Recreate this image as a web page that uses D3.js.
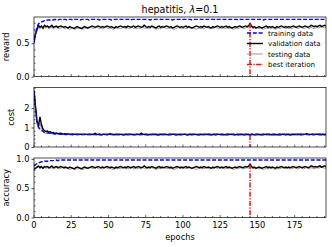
<!DOCTYPE html>
<html><head><meta charset="utf-8">
<script src="https://cdn.jsdelivr.net/npm/d3@7"></script>
<style>body{margin:0;background:#fff}svg{display:block;font-family:"DejaVu Sans",sans-serif}</style>
</head><body><svg id="c" width="332" height="247"></svg>
<script>
const title = "hepatitis, ";
const xTicks = [0,25,50,75,100,125,150,175];
const bestIter = 145;
const legendLabels = ["training data","validation data","testing data","best iteration"];
const panelLabels = ["reward","cost","accuracy"];
const yTicks = [[0.0,0.5],[0,1,2],[0.0,0.5,1.0]];
const yTickFmt = [".1f","d",".1f"];
const yDomains = [[0,0.895],[0,3.05],[0,1.015]];

const trainReward = [
0.50,0.65,0.74,0.79,0.81,0.82,0.83,0.84,0.84,0.85,
0.85,0.85,0.85,0.85,0.86,0.85,0.85,0.86,0.86,0.85,
0.86,0.86,0.85,0.86,0.86,0.86,0.85,0.86,0.86,0.86,
0.86,0.85,0.86,0.86,0.86,0.86,0.86,0.85,0.86,0.86,
0.86,0.86,0.86,0.86,0.85,0.86,0.86,0.86,0.86,0.86,
0.86,0.86,0.85,0.86,0.86,0.86,0.86,0.86,0.86,0.86,
0.86,0.86,0.86,0.86,0.86,0.85,0.86,0.86,0.86,0.86,
0.86,0.86,0.86,0.86,0.86,0.86,0.86,0.86,0.85,0.86,
0.86,0.86,0.86,0.86,0.86,0.86,0.86,0.86,0.86,0.86,
0.86,0.86,0.86,0.85,0.86,0.86,0.86,0.86,0.86,0.86,
0.86,0.86,0.86,0.86,0.86,0.86,0.85,0.86,0.86,0.86,
0.86,0.86,0.86,0.86,0.86,0.86,0.86,0.86,0.86,0.86,
0.86,0.86,0.85,0.86,0.86,0.86,0.86,0.86,0.86,0.86,
0.86,0.86,0.86,0.86,0.86,0.86,0.86,0.85,0.86,0.86,
0.86,0.86,0.86,0.86,0.86,0.86,0.86,0.86,0.86,0.86,
0.86,0.86,0.86,0.86,0.85,0.86,0.86,0.86,0.86,0.86,
0.86,0.86,0.86,0.86,0.86,0.86,0.86,0.86,0.86,0.86,
0.86,0.86,0.86,0.86,0.86,0.86,0.86,0.86,0.86,0.86,
0.86,0.86,0.86,0.86,0.86,0.86,0.86,0.86,0.86,0.86,
0.86,0.86,0.86,0.86,0.86,0.86,0.86];
const validReward = [
0.52,0.63,0.71,0.77,0.74,0.76,0.73,0.77,0.75,0.76,
0.74,0.75,0.77,0.74,0.75,0.76,0.74,0.75,0.76,0.75,
0.74,0.75,0.74,0.73,0.75,0.74,0.73,0.72,0.74,0.75,
0.74,0.73,0.72,0.74,0.75,0.74,0.73,0.74,0.75,0.76,
0.75,0.74,0.75,0.76,0.75,0.74,0.75,0.74,0.75,0.76,
0.75,0.74,0.75,0.74,0.73,0.75,0.74,0.75,0.76,0.75,
0.74,0.75,0.74,0.76,0.75,0.74,0.75,0.76,0.74,0.75,
0.76,0.75,0.74,0.75,0.77,0.75,0.74,0.75,0.74,0.76,
0.75,0.74,0.73,0.75,0.76,0.74,0.75,0.74,0.75,0.76,
0.75,0.74,0.75,0.73,0.74,0.75,0.76,0.75,0.74,0.75,
0.74,0.75,0.76,0.74,0.75,0.74,0.73,0.74,0.75,0.76,
0.75,0.74,0.75,0.74,0.76,0.75,0.74,0.75,0.74,0.73,
0.75,0.74,0.75,0.76,0.75,0.74,0.75,0.74,0.75,0.76,
0.74,0.75,0.74,0.73,0.74,0.75,0.74,0.75,0.76,0.75,
0.74,0.75,0.76,0.75,0.76,0.80,0.76,0.74,0.75,0.73,
0.74,0.75,0.74,0.73,0.74,0.75,0.76,0.74,0.75,0.74,
0.75,0.74,0.73,0.75,0.74,0.75,0.76,0.75,0.74,0.75,
0.74,0.75,0.74,0.75,0.76,0.75,0.74,0.75,0.76,0.75,
0.74,0.75,0.76,0.75,0.74,0.75,0.77,0.76,0.75,0.76,
0.75,0.76,0.77,0.75,0.76,0.77,0.76];
const testReward = [
0.55,0.63,0.69,0.74,0.72,0.74,0.71,0.74,0.73,0.74,
0.72,0.73,0.74,0.72,0.73,0.74,0.73,0.72,0.73,0.74,
0.73,0.72,0.73,0.72,0.71,0.72,0.73,0.72,0.71,0.73,
0.72,0.73,0.72,0.71,0.72,0.73,0.72,0.73,0.74,0.73,
0.72,0.73,0.74,0.73,0.72,0.73,0.72,0.73,0.74,0.73,
0.72,0.73,0.72,0.71,0.72,0.73,0.72,0.73,0.72,0.73,
0.74,0.73,0.72,0.73,0.72,0.73,0.74,0.72,0.73,0.72,
0.73,0.72,0.73,0.74,0.73,0.72,0.73,0.72,0.73,0.74,
0.73,0.72,0.71,0.72,0.73,0.72,0.73,0.74,0.73,0.72,
0.73,0.72,0.73,0.72,0.71,0.72,0.73,0.74,0.72,0.73,
0.72,0.73,0.72,0.73,0.74,0.73,0.72,0.73,0.72,0.71,
0.72,0.73,0.72,0.73,0.72,0.73,0.74,0.73,0.72,0.73,
0.72,0.73,0.74,0.73,0.72,0.73,0.72,0.73,0.72,0.73,
0.73,0.72,0.73,0.72,0.71,0.72,0.73,0.72,0.73,0.74,
0.73,0.72,0.73,0.74,0.73,0.75,0.74,0.72,0.73,0.72,
0.73,0.72,0.73,0.72,0.71,0.72,0.73,0.72,0.73,0.72,
0.73,0.72,0.71,0.72,0.73,0.72,0.73,0.74,0.73,0.72,
0.73,0.72,0.73,0.72,0.73,0.74,0.73,0.72,0.73,0.74,
0.73,0.72,0.73,0.74,0.73,0.72,0.74,0.73,0.72,0.73,
0.74,0.73,0.74,0.75,0.74,0.73,0.74];

const trainCost = [
2.85,1.95,1.30,1.02,0.92,0.85,0.80,0.76,0.74,0.72,
0.71,0.70,0.69,0.68,0.67,0.67,0.66,0.66,0.65,0.65,
0.65,0.64,0.64,0.65,0.64,0.64,0.63,0.64,0.64,0.64,
0.64,0.63,0.64,0.64,0.64,0.63,0.64,0.64,0.63,0.64,
0.64,0.64,0.63,0.64,0.64,0.63,0.64,0.64,0.64,0.63,
0.64,0.63,0.64,0.64,0.63,0.64,0.64,0.63,0.64,0.64,
0.63,0.64,0.64,0.63,0.64,0.64,0.63,0.64,0.63,0.64,
0.64,0.63,0.64,0.64,0.63,0.64,0.63,0.64,0.64,0.63,
0.64,0.64,0.63,0.64,0.63,0.64,0.64,0.63,0.64,0.64,
0.63,0.64,0.64,0.63,0.64,0.63,0.64,0.64,0.63,0.64,
0.64,0.63,0.64,0.63,0.64,0.64,0.63,0.64,0.64,0.63,
0.64,0.63,0.64,0.64,0.63,0.64,0.63,0.64,0.64,0.63,
0.64,0.64,0.63,0.64,0.63,0.64,0.64,0.63,0.64,0.63,
0.64,0.64,0.63,0.64,0.64,0.63,0.64,0.63,0.64,0.64,
0.63,0.64,0.64,0.63,0.64,0.63,0.64,0.64,0.63,0.64,
0.64,0.63,0.64,0.63,0.64,0.64,0.63,0.64,0.64,0.63,
0.64,0.63,0.64,0.64,0.63,0.64,0.63,0.64,0.64,0.63,
0.64,0.64,0.63,0.64,0.63,0.64,0.64,0.63,0.64,0.63,
0.64,0.64,0.63,0.64,0.64,0.63,0.64,0.63,0.64,0.64,
0.63,0.64,0.64,0.63,0.64,0.63,0.64];
const validCost = [
2.90,2.10,1.35,1.08,1.55,1.15,0.92,0.84,0.80,0.82,
0.76,0.78,0.72,0.74,0.70,0.72,0.69,0.70,0.71,0.68,
0.67,0.68,0.66,0.67,0.65,0.66,0.67,0.65,0.66,0.64,
0.65,0.66,0.64,0.65,0.66,0.65,0.64,0.65,0.66,0.64,
0.65,0.70,0.66,0.64,0.65,0.63,0.64,0.66,0.65,0.64,
0.66,0.68,0.65,0.64,0.63,0.65,0.64,0.66,0.65,0.64,
0.63,0.64,0.65,0.64,0.66,0.65,0.64,0.63,0.65,0.66,
0.64,0.65,0.71,0.66,0.64,0.65,0.64,0.63,0.64,0.65,
0.66,0.64,0.65,0.63,0.64,0.65,0.64,0.66,0.65,0.64,
0.63,0.65,0.64,0.66,0.65,0.64,0.63,0.64,0.65,0.64,
0.65,0.66,0.64,0.63,0.64,0.65,0.64,0.66,0.65,0.64,
0.63,0.64,0.65,0.64,0.65,0.66,0.64,0.65,0.64,0.63,
0.64,0.65,0.64,0.66,0.65,0.64,0.65,0.64,0.63,0.64,
0.65,0.64,0.66,0.65,0.64,0.63,0.64,0.65,0.64,0.65,
0.64,0.63,0.64,0.65,0.64,0.62,0.65,0.64,0.63,0.64,
0.65,0.64,0.63,0.64,0.65,0.64,0.66,0.65,0.64,0.63,
0.64,0.65,0.64,0.63,0.64,0.65,0.64,0.66,0.65,0.64,
0.65,0.64,0.63,0.64,0.65,0.64,0.65,0.66,0.64,0.65,
0.64,0.65,0.66,0.68,0.65,0.64,0.65,0.66,0.64,0.65,
0.66,0.64,0.65,0.64,0.65,0.64,0.65];
const testCost = [
2.80,2.00,1.25,0.95,1.20,0.95,0.78,0.72,0.70,0.74,
0.70,0.72,0.68,0.70,0.67,0.69,0.66,0.67,0.68,0.66,
0.65,0.66,0.67,0.65,0.66,0.64,0.65,0.66,0.65,0.66,
0.67,0.65,0.66,0.65,0.64,0.66,0.65,0.67,0.65,0.66,
0.65,0.66,0.65,0.66,0.67,0.65,0.66,0.64,0.65,0.66,
0.65,0.67,0.66,0.65,0.66,0.65,0.64,0.65,0.66,0.65,
0.66,0.65,0.67,0.65,0.66,0.65,0.66,0.65,0.64,0.65,
0.66,0.65,0.66,0.67,0.65,0.66,0.65,0.66,0.65,0.66,
0.65,0.66,0.65,0.64,0.65,0.66,0.65,0.67,0.66,0.65,
0.66,0.65,0.66,0.65,0.66,0.67,0.65,0.66,0.65,0.64,
0.65,0.66,0.65,0.66,0.65,0.66,0.67,0.65,0.66,0.65,
0.66,0.65,0.64,0.65,0.66,0.65,0.66,0.65,0.67,0.66,
0.65,0.66,0.65,0.66,0.65,0.64,0.65,0.66,0.65,0.66,
0.67,0.65,0.66,0.65,0.66,0.65,0.66,0.65,0.64,0.65,
0.66,0.65,0.66,0.65,0.66,0.65,0.67,0.66,0.65,0.66,
0.65,0.66,0.65,0.64,0.65,0.66,0.65,0.66,0.67,0.65,
0.66,0.65,0.66,0.65,0.66,0.65,0.64,0.65,0.66,0.65,
0.66,0.67,0.65,0.66,0.65,0.66,0.65,0.66,0.67,0.65,
0.66,0.65,0.66,0.67,0.66,0.65,0.66,0.67,0.65,0.66,
0.65,0.66,0.67,0.65,0.66,0.65,0.66];

const trainAcc = [
0.88,0.90,0.92,0.93,0.94,0.95,0.95,0.96,0.96,0.96,
0.97,0.97,0.97,0.97,0.97,0.98,0.97,0.98,0.98,0.98,
0.98,0.98,0.98,0.98,0.98,0.98,0.98,0.98,0.98,0.98,
0.98,0.98,0.98,0.98,0.98,0.98,0.98,0.98,0.98,0.98,
0.98,0.98,0.98,0.98,0.98,0.98,0.98,0.98,0.98,0.98,
0.98,0.98,0.98,0.98,0.98,0.98,0.98,0.98,0.98,0.98,
0.98,0.98,0.98,0.98,0.98,0.98,0.98,0.98,0.98,0.98,
0.98,0.98,0.98,0.98,0.98,0.98,0.98,0.98,0.98,0.98,
0.98,0.98,0.98,0.98,0.98,0.98,0.98,0.98,0.98,0.98,
0.98,0.98,0.98,0.98,0.98,0.98,0.98,0.98,0.98,0.98,
0.98,0.98,0.98,0.98,0.98,0.98,0.98,0.98,0.98,0.98,
0.98,0.98,0.98,0.98,0.98,0.98,0.98,0.98,0.98,0.98,
0.98,0.98,0.98,0.98,0.98,0.98,0.98,0.98,0.98,0.98,
0.98,0.98,0.98,0.98,0.98,0.98,0.98,0.98,0.98,0.98,
0.98,0.98,0.98,0.98,0.98,0.98,0.98,0.98,0.98,0.98,
0.98,0.98,0.98,0.98,0.98,0.98,0.98,0.98,0.98,0.98,
0.98,0.98,0.98,0.98,0.98,0.98,0.98,0.98,0.98,0.98,
0.98,0.98,0.98,0.98,0.98,0.98,0.98,0.98,0.98,0.98,
0.98,0.98,0.98,0.98,0.98,0.98,0.98,0.98,0.98,0.98,
0.98,0.98,0.98,0.98,0.98,0.98,0.98];
const validAcc = [
0.82,0.84,0.86,0.88,0.85,0.87,0.84,0.87,0.86,0.87,
0.85,0.86,0.88,0.85,0.86,0.87,0.85,0.86,0.87,0.86,
0.85,0.86,0.85,0.84,0.86,0.85,0.84,0.83,0.85,0.86,
0.85,0.84,0.83,0.85,0.86,0.85,0.84,0.85,0.86,0.87,
0.86,0.85,0.86,0.87,0.86,0.85,0.86,0.85,0.86,0.87,
0.86,0.85,0.86,0.85,0.84,0.86,0.85,0.86,0.87,0.86,
0.85,0.86,0.85,0.87,0.86,0.85,0.86,0.87,0.85,0.86,
0.87,0.86,0.85,0.86,0.88,0.86,0.85,0.86,0.85,0.87,
0.86,0.85,0.84,0.86,0.87,0.85,0.86,0.85,0.86,0.87,
0.86,0.85,0.86,0.84,0.85,0.86,0.87,0.86,0.85,0.86,
0.85,0.86,0.87,0.85,0.86,0.85,0.84,0.85,0.86,0.87,
0.86,0.85,0.86,0.85,0.87,0.86,0.85,0.86,0.85,0.84,
0.86,0.85,0.86,0.87,0.86,0.85,0.86,0.85,0.86,0.87,
0.85,0.86,0.85,0.84,0.85,0.86,0.85,0.86,0.87,0.86,
0.85,0.86,0.87,0.86,0.87,0.91,0.87,0.85,0.86,0.84,
0.85,0.86,0.85,0.84,0.85,0.86,0.87,0.85,0.86,0.85,
0.86,0.85,0.84,0.86,0.85,0.86,0.87,0.86,0.85,0.86,
0.85,0.86,0.85,0.86,0.87,0.86,0.85,0.86,0.87,0.86,
0.85,0.86,0.87,0.86,0.85,0.86,0.88,0.87,0.86,0.87,
0.86,0.87,0.88,0.86,0.87,0.88,0.87];
const testAcc = [
0.85,0.84,0.85,0.86,0.84,0.85,0.83,0.85,0.84,0.85,
0.83,0.84,0.85,0.83,0.84,0.85,0.84,0.83,0.84,0.85,
0.84,0.83,0.84,0.83,0.82,0.83,0.84,0.83,0.82,0.84,
0.83,0.84,0.83,0.82,0.83,0.84,0.83,0.84,0.85,0.84,
0.83,0.84,0.85,0.84,0.83,0.84,0.83,0.84,0.85,0.84,
0.83,0.84,0.83,0.82,0.83,0.84,0.83,0.84,0.83,0.84,
0.85,0.84,0.83,0.84,0.83,0.84,0.85,0.83,0.84,0.83,
0.84,0.83,0.84,0.85,0.84,0.83,0.84,0.83,0.84,0.85,
0.84,0.83,0.82,0.83,0.84,0.83,0.84,0.85,0.84,0.83,
0.84,0.83,0.84,0.83,0.82,0.83,0.84,0.85,0.83,0.84,
0.83,0.84,0.83,0.84,0.85,0.84,0.83,0.84,0.83,0.82,
0.83,0.84,0.83,0.84,0.83,0.84,0.85,0.84,0.83,0.84,
0.83,0.84,0.85,0.84,0.83,0.84,0.83,0.84,0.83,0.84,
0.84,0.83,0.84,0.83,0.82,0.83,0.84,0.83,0.84,0.85,
0.84,0.83,0.84,0.85,0.84,0.86,0.85,0.83,0.84,0.83,
0.84,0.83,0.84,0.83,0.82,0.83,0.84,0.83,0.84,0.83,
0.84,0.83,0.82,0.83,0.84,0.83,0.84,0.85,0.84,0.83,
0.84,0.83,0.84,0.83,0.84,0.85,0.84,0.83,0.84,0.85,
0.84,0.83,0.84,0.85,0.84,0.83,0.85,0.84,0.83,0.84,
0.85,0.84,0.85,0.86,0.85,0.84,0.85];

const panels = [
  {train: trainReward, valid: validReward, test: testReward},
  {train: trainCost, valid: validCost, test: testCost},
  {train: trainAcc, valid: validAcc, test: testAcc}
];

const svg = d3.select("#c");
const L = 34, R = 326;
const boxes = [[17,76.5],[87.5,147],[158,217.5]];
const x = d3.scaleLinear().domain([0,196]).range([L,R]);
const FS = 8.3;

panels.forEach((p,i)=>{
  const [top,bot] = boxes[i];
  const y = d3.scaleLinear().domain(yDomains[i]).range([bot,top]);
  const g = svg.append("g");
  const clipId = "clip"+i;
  svg.append("clipPath").attr("id",clipId).append("rect")
    .attr("x",L).attr("y",top).attr("width",R-L).attr("height",bot-top);
  const line = d3.line().x((d,k)=>x(k)).y(d=>y(d));
  const lg = g.append("g").attr("clip-path",`url(#${clipId})`);
  lg.append("path").attr("d",line(p.test)).attr("fill","none").attr("stroke","#8c8c8c").attr("stroke-width",0.9);
  lg.append("path").attr("d",line(p.valid)).attr("fill","none").attr("stroke","#000").attr("stroke-width",1.4);
  lg.append("path").attr("d",line(p.train)).attr("fill","none").attr("stroke","#0000ff").attr("stroke-width",1.4).attr("stroke-dasharray","4,1.8");
  lg.append("line").attr("x1",x(bestIter)).attr("x2",x(bestIter))
    .attr("y1",y(p.valid[bestIter])).attr("y2",bot)
    .attr("stroke","#ff0000").attr("stroke-width",1.4).attr("stroke-dasharray","5,1.5,1.2,1.5");
  // frame
  g.append("rect").attr("x",L).attr("y",top).attr("width",R-L).attr("height",bot-top)
    .attr("fill","none").attr("stroke","#000").attr("stroke-width",0.7);
  // y axis
  const yAx = g.append("g").attr("transform",`translate(${L},0)`)
    .call(d3.axisLeft(y).tickValues(yTicks[i]).tickFormat(d3.format(yTickFmt[i])).tickSize(2.5).tickPadding(2));
  yAx.select(".domain").remove();
  yAx.selectAll("text").attr("font-size",FS).attr("fill","#000").attr("font-family","DejaVu Sans");
  yAx.selectAll("line").attr("stroke-width",0.7);
  const yMinor = d3.range(0, yDomains[i][1], i===1?0.2:0.1).filter(v=>!yTicks[i].some(t=>Math.abs(t-v)<1e-6));
  g.selectAll(null).data(yMinor).enter().append("line")
    .attr("x1",L).attr("x2",L+1.5).attr("y1",d=>y(d)).attr("y2",d=>y(d))
    .attr("stroke","#000").attr("stroke-width",0.6);
  // x ticks (inward)
  const xMinor = d3.range(0,197,5);
  g.selectAll(null).data(xMinor).enter().append("line")
    .attr("x1",d=>x(d)).attr("x2",d=>x(d))
    .attr("y1",bot).attr("y2",d=> bot - (d%25===0?2.5:1.5))
    .attr("stroke","#000").attr("stroke-width",0.6);
  if(i===2){
    g.selectAll(null).data(xTicks).enter().append("text")
      .attr("x",d=>x(d)).attr("y",bot+10).attr("text-anchor","middle")
      .attr("font-size",FS).text(d=>d);
  }
  // y label
  const lx = i===1 ? 14 : 9;
  svg.append("text").attr("transform",`translate(${lx},${(top+bot)/2}) rotate(-90)`)
    .attr("text-anchor","middle").attr("font-size",FS).text(panelLabels[i]);
});

svg.append("text").attr("x",(L+R)/2).attr("y",239.5).attr("text-anchor","middle").attr("font-size",FS).text("epochs");
const t = svg.append("text").attr("x",(L+R)/2).attr("y",12.5).attr("text-anchor","middle").attr("font-size",9.6);
t.append("tspan").text(title);
t.append("tspan").attr("font-style","italic").text("λ");
t.append("tspan").text("=0.1");

// legend
const lgd = svg.append("g");
const rows = [33,43.5,54,64.5];
const styles = [
  {stroke:"#0000ff", w:1.4, dash:"4,1.8"},
  {stroke:"#000", w:1.4, dash:null},
  {stroke:"#8c8c8c", w:0.9, dash:null},
  {stroke:"#ff0000", w:1.4, dash:"5,1.5,1.2,1.5"}
];
legendLabels.forEach((lab,k)=>{
  const s = styles[k];
  const ln = lgd.append("line").attr("x1",247).attr("x2",263).attr("y1",rows[k]).attr("y2",rows[k])
    .attr("stroke",s.stroke).attr("stroke-width",s.w);
  if(s.dash) ln.attr("stroke-dasharray",s.dash);
  lgd.append("text").attr("x",268).attr("y",rows[k]+2.5).attr("font-size",7).text(lab);
});
</script></body></html>
